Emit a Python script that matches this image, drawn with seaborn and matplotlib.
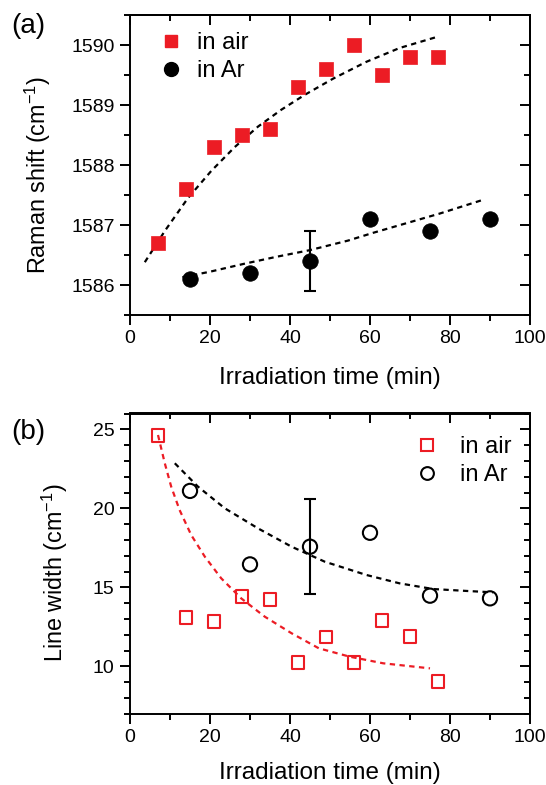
import numpy as np
import pandas as pd
import matplotlib
matplotlib.use("Agg")
import matplotlib.pyplot as plt
import seaborn as sns
from matplotlib.ticker import MultipleLocator, FormatStrFormatter
from matplotlib.lines import Line2D

# ---------------- data ----------------
t_air = [7, 14, 21, 28, 35, 42, 49, 56, 63, 70, 77]
shift_air = [1586.7, 1587.6, 1588.3, 1588.5, 1588.6, 1589.3, 1589.6, 1590.0, 1589.5, 1589.8, 1589.8]
t_ar = [15, 30, 45, 60, 75, 90]
shift_ar = [1586.1, 1586.2, 1586.4, 1587.1, 1586.9, 1587.1]
shift_err_t = [45]
shift_err_y = [1586.4]
shift_err = [0.5]

width_air = [24.6, 13.1, 12.85, 14.4, 14.25, 10.25, 11.85, 10.25, 12.9, 11.9, 9.05]
width_ar = [21.1, 16.45, 17.57, 18.45, 14.47, 14.3]
width_err_t = [45]
width_err_y = [17.57]
width_err = [3.0]

# guide-to-the-eye dashed curves
guide_shift_air_t = [3.7, 8.7, 14.5, 20.3, 26.2, 32.0, 37.8, 43.7, 50.8, 59.1, 67.4, 77.0]
guide_shift_air_y = [1586.38, 1586.90, 1587.45, 1587.90, 1588.30, 1588.64, 1588.92, 1589.17,
                     1589.44, 1589.72, 1589.95, 1590.14]
guide_shift_ar_t = [13.1, 19.9, 28.3, 36.6, 44.9, 54.5, 60.8, 69.1, 77.4, 87.8]
guide_shift_ar_y = [1586.13, 1586.22, 1586.35, 1586.47, 1586.58, 1586.74, 1586.87, 1587.03,
                    1587.19, 1587.41]
guide_width_air_t = [7.0, 8.7, 10.3, 12.4, 15.3, 18.7, 22.8, 27.8, 33.7, 40.4, 47.2, 54.9, 63.3, 75.0]
guide_width_air_y = [24.64, 22.85, 21.37, 19.89, 18.31, 16.94, 15.57, 14.30, 13.14, 12.09,
                     11.14, 10.61, 10.19, 9.87]
guide_width_ar_t = [11.2, 17.0, 23.7, 32.0, 40.4, 48.7, 59.1, 67.4, 75.8, 84.1, 90.8]
guide_width_ar_y = [22.85, 21.37, 20.0, 18.73, 17.57, 16.62, 15.78, 15.25, 14.89, 14.77, 14.68]

labels = ["in air", "in Ar"]
xlabel = "Irradiation time (min)"
ylabel_a = "Raman shift (cm$^{-1}$)"
ylabel_b = "Line width (cm$^{-1}$)"

RED = "#EC1C24"

sns.set_theme(style="ticks", rc={
    "axes.edgecolor": "black", "xtick.color": "black", "ytick.color": "black",
    "text.color": "black", "axes.labelcolor": "black",
})
plt.rcParams["font.family"] = ["Liberation Sans", "DejaVu Sans"]
plt.rcParams["mathtext.fontset"] = "custom"
plt.rcParams["mathtext.rm"] = "Liberation Sans"
plt.rcParams["mathtext.default"] = "regular"

W, H = 546, 785
fig = plt.figure(figsize=(W / 100, H / 100), dpi=100)
ax1 = fig.add_axes([130 / W, 1 - 315 / H, 400 / W, 300 / H])
ax2 = fig.add_axes([130 / W, 1 - 713.7 / H, 400 / W, 300.2 / H])

df_air = pd.DataFrame({"t": t_air, "shift": shift_air, "width": width_air})
df_ar = pd.DataFrame({"t": t_ar, "shift": shift_ar, "width": width_ar})

dash = (0, (2.4, 2.0))

# ---------------- panel (a) ----------------
sns.lineplot(x=guide_shift_air_t, y=guide_shift_air_y, ax=ax1, color="black", lw=1.6,
             linestyle=dash, sort=False)
sns.lineplot(x=guide_shift_ar_t, y=guide_shift_ar_y, ax=ax1, color="black", lw=1.6,
             linestyle=dash, sort=False)
ax1.errorbar(shift_err_t, shift_err_y, yerr=shift_err, fmt="none", ecolor="black",
             elinewidth=1.5, capsize=4.5, capthick=1.5, zorder=3)
sns.scatterplot(data=df_air, x="t", y="shift", ax=ax1, marker="s", s=105, color=RED,
                edgecolor=RED, linewidth=0.5, zorder=4)
sns.scatterplot(data=df_ar, x="t", y="shift", ax=ax1, marker="o", s=125, color="black",
                edgecolor="black", linewidth=0.5, zorder=4)

ax1.set_xlim(0, 100)
ax1.set_ylim(1585.5, 1590.5)

# ---------------- panel (b) ----------------
sns.lineplot(x=guide_width_air_t, y=guide_width_air_y, ax=ax2, color=RED, lw=1.6,
             linestyle=dash, sort=False)
sns.lineplot(x=guide_width_ar_t, y=guide_width_ar_y, ax=ax2, color="black", lw=1.6,
             linestyle=dash, sort=False)
ax2.errorbar(width_err_t, width_err_y, yerr=width_err, fmt="none", ecolor="black",
             elinewidth=1.5, capsize=4.5, capthick=1.5, zorder=3)
sns.scatterplot(data=df_air, x="t", y="width", ax=ax2, marker="s", s=85, facecolor="none",
                edgecolor=RED, linewidth=1.5, zorder=4)
sns.scatterplot(data=df_ar, x="t", y="width", ax=ax2, marker="o", s=105, facecolor="none",
                edgecolor="black", linewidth=1.5, zorder=4)

ax2.set_xlim(0, 100)
ax2.set_ylim(7, 26)


def style(ax, ymaj, ymin):
    for sp in ax.spines.values():
        sp.set_visible(True)
        sp.set_linewidth(1.4)
        sp.set_color("black")
    ax.xaxis.set_major_locator(MultipleLocator(20))
    ax.xaxis.set_minor_locator(MultipleLocator(10))
    ax.yaxis.set_major_locator(MultipleLocator(ymaj))
    ax.yaxis.set_minor_locator(MultipleLocator(ymin))
    ax.tick_params(which="both", direction="out", top=False, right=False,
                   bottom=True, left=True, width=1.4, labelsize=14, pad=4)
    ax.tick_params(which="major", length=7)
    ax.tick_params(which="minor", length=4)
    sx = ax.secondary_xaxis("top")
    sx.xaxis.set_major_locator(MultipleLocator(20))
    sx.xaxis.set_minor_locator(MultipleLocator(10))
    sx.tick_params(which="both", direction="in", top=True, labeltop=False, width=1.4)
    sx.tick_params(which="major", length=7)
    sx.tick_params(which="minor", length=4)
    sy = ax.secondary_yaxis("right")
    sy.yaxis.set_major_locator(MultipleLocator(ymaj))
    sy.yaxis.set_minor_locator(MultipleLocator(ymin))
    sy.tick_params(which="both", direction="in", right=True, labelright=False, width=1.4)
    sy.tick_params(which="major", length=7)
    sy.tick_params(which="minor", length=4)
    for s in (sx, sy):
        for sp in s.spines.values():
            sp.set_linewidth(1.4)
            sp.set_color("black")


style(ax1, 1, 0.5)
style(ax2, 5, 1)
ax1.yaxis.set_major_formatter(FormatStrFormatter("%d"))

# axis labels
for ax, yl, xy_x, xy_y, yy_x, yy_y in [
    (ax1, ylabel_a, 0.5, (315 - 378) / 300, (37.5 - 130) / 400, (315 - 175) / 300),
    (ax2, ylabel_b, 0.5, (713.7 - 773) / 300.2, (55 - 130) / 400, (713.7 - 572.5) / 300.2),
]:
    ax.set_xlabel(xlabel, fontsize=17.5)
    ax.set_ylabel(yl, fontsize=16.8)
    ax.xaxis.set_label_coords(xy_x, xy_y)
    ax.xaxis.label.set_va("center")
    ax.yaxis.set_label_coords(yy_x, yy_y)
    ax.yaxis.label.set_va("center")

# legends
h_a = [Line2D([], [], marker="s", ls="none", color=RED, markersize=9),
       Line2D([], [], marker="o", ls="none", color="black", markersize=10)]
leg1 = ax1.legend(h_a, labels, loc="upper left", bbox_to_anchor=(0.05, 0.975), frameon=False,
                  fontsize=17, handlelength=1.0, handletextpad=0.6, labelspacing=0.25,
                  borderaxespad=0)
h_b = [Line2D([], [], marker="s", ls="none", markerfacecolor="none", markeredgecolor=RED,
              markeredgewidth=1.5, markersize=8.3),
       Line2D([], [], marker="o", ls="none", markerfacecolor="none", markeredgecolor="black",
              markeredgewidth=1.5, markersize=9.2)]
leg2 = ax2.legend(h_b, labels, loc="upper left", bbox_to_anchor=(0.69, 0.955), frameon=False,
                  fontsize=17, handlelength=1.0, handletextpad=0.9, labelspacing=0.25,
                  borderaxespad=0)

fig.text(28 / W, 1 - 26 / H, "(a)", fontsize=20, ha="center", va="center")
fig.text(28 / W, 1 - 432 / H, "(b)", fontsize=20, ha="center", va="center")

fig.savefig("out.png", dpi=100, facecolor="white")
